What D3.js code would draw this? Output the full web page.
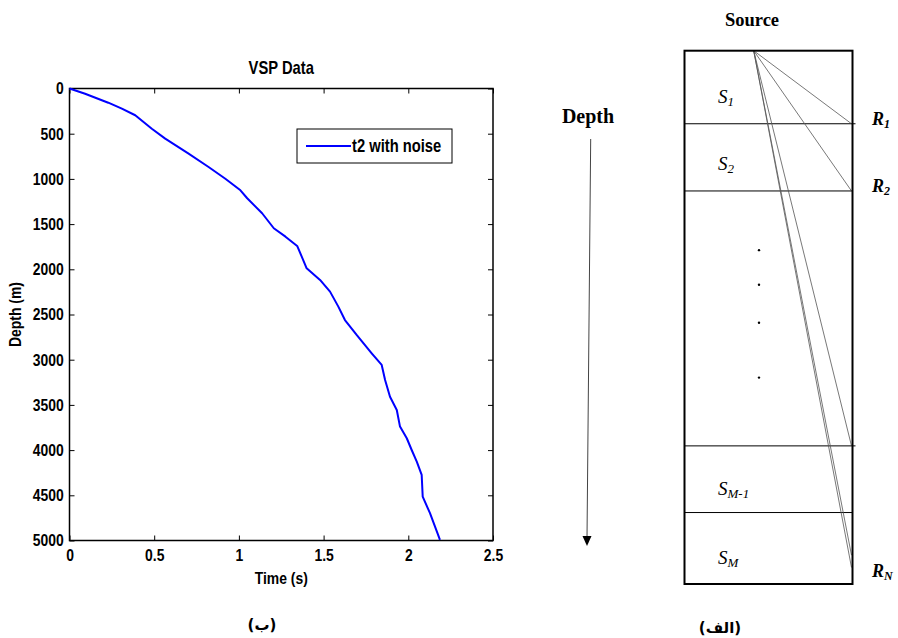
<!DOCTYPE html>
<html>
<head>
<meta charset="utf-8">
<script src="https://cdn.jsdelivr.net/npm/d3@7"></script>
<style>
  body { margin: 0; background: #fff; }
  svg { display: block; }
  .tick text { font-family: "Liberation Sans", Arial, sans-serif; font-weight: bold; font-size: 17px; fill: #000; }
  .tick line { stroke: #000; stroke-width: 1; }
</style>
</head>
<body>
<div id="chart"></div>
<script>
// VSP curve: time (s) vs depth (m)
const timeVals  = [0, 0.092, 0.229, 0.309, 0.388, 0.486, 0.565, 0.703, 0.821, 0.920, 1.009, 1.049, 1.137, 1.206, 1.275, 1.344, 1.371, 1.400, 1.479, 1.538, 1.587, 1.626, 1.695, 1.784, 1.843, 1.863, 1.892, 1.932, 1.951, 1.991, 2.020, 2.050, 2.079, 2.085, 2.128, 2.187];
const depthVals = [0, 58, 157, 223, 296, 445, 555, 721, 868, 998, 1126, 1214, 1380, 1546, 1639, 1742, 1860, 1989, 2118, 2247, 2413, 2561, 2726, 2929, 3058, 3224, 3409, 3556, 3740, 3869, 3999, 4128, 4275, 4515, 4698, 4994];
const xTicks = [0, 0.5, 1, 1.5, 2, 2.5];
const yTicks = [0, 500, 1000, 1500, 2000, 2500, 3000, 3500, 4000, 4500, 5000];
const seriesName = "t2 with noise";

// schematic (الف): depths on a 0..100 relative scale
const layerBounds = [13.7, 26.3, 74.1, 86.6];
const layerLabels = [
  {s: "S", sub: "1", d: 8.6},
  {s: "S", sub: "2", d: 21.2},
  {s: "S", sub: "M-1", d: 82.2},
  {s: "S", sub: "M", d: 95.2}
];
const receivers = [13.7, 26.3, 74.1, 96.9];
const receiverLabels = [
  {r: "R", sub: "1", d: 13.7},
  {r: "R", sub: "2", d: 26.3},
  {r: "R", sub: "N", d: 98.5}
];
const extraRay = [94.6];
const dotDepths = [37.4, 43.9, 51.0, 61.3];

const W = 898, H = 638;
const NARROW = "scale(0.82,1)";
const svg = d3.select("#chart").append("svg").attr("width", W).attr("height", H);

// ---------- left panel: VSP Data ----------
const x = d3.scaleLinear().domain([0, 2.5]).range([69.5, 493]);
const y = d3.scaleLinear().domain([0, 5000]).range([88.5, 540.5]);
const data = timeVals.map((t, i) => ({t: t, d: depthVals[i]}));

const plot = svg.append("g");

plot.append("g")
  .attr("transform", `translate(0,${y(5000)})`)
  .call(d3.axisBottom(x).tickValues(xTicks).tickSizeInner(-5).tickSizeOuter(0).tickPadding(8).tickFormat(d3.format("")))
  .call(g => g.select(".domain").remove())
  .call(g => g.selectAll("text").attr("transform", NARROW));
plot.append("g")
  .attr("transform", `translate(0,${y(0)})`)
  .call(d3.axisTop(x).tickValues(xTicks).tickSizeInner(-5).tickSizeOuter(0).tickFormat(""))
  .call(g => g.select(".domain").remove());
plot.append("g")
  .attr("transform", `translate(${x(0)},0)`)
  .call(d3.axisLeft(y).tickValues(yTicks).tickSizeInner(-5).tickSizeOuter(0).tickPadding(7).tickFormat(d3.format("")))
  .call(g => g.select(".domain").remove())
  .call(g => g.selectAll("text").attr("transform", NARROW));
plot.append("g")
  .attr("transform", `translate(${x(2.5)},0)`)
  .call(d3.axisRight(y).tickValues(yTicks).tickSizeInner(-5).tickSizeOuter(0).tickFormat(""))
  .call(g => g.select(".domain").remove());

plot.append("rect")
  .attr("x", x(0)).attr("y", y(0))
  .attr("width", x(2.5) - x(0)).attr("height", y(5000) - y(0))
  .attr("fill", "none").attr("stroke", "#000").attr("stroke-width", 1.5);

plot.append("path")
  .datum(data)
  .attr("fill", "none")
  .attr("stroke", "#0000ff")
  .attr("stroke-width", 2)
  .attr("stroke-linejoin", "round")
  .attr("d", d3.line().x(d => x(d.t)).y(d => y(d.d)));

const labelFont = '"Liberation Sans", Arial, sans-serif';
function narrowText(g, px, py, size, str, rot) {
  return g.append("text")
    .attr("transform", `translate(${px},${py})` + (rot ? " rotate(-90)" : "") + " " + NARROW)
    .style("font-family", labelFont).style("font-weight", "bold").style("font-size", size + "px")
    .text(str);
}
const midX = (x(0) + x(2.5)) / 2;
narrowText(plot, midX, 74, 18, "VSP Data").attr("text-anchor", "middle");
narrowText(plot, midX, 584, 17, "Time (s)").attr("text-anchor", "middle");
narrowText(plot, 21, (y(0) + y(5000)) / 2, 17, "Depth (m)", true).attr("text-anchor", "middle");

// legend
const leg = plot.append("g");
leg.append("rect")
  .attr("x", 297).attr("y", 129).attr("width", 155).attr("height", 34)
  .attr("fill", "#fff").attr("stroke", "#000").attr("stroke-width", 1);
leg.append("line")
  .attr("x1", 306).attr("x2", 351).attr("y1", 146).attr("y2", 146)
  .attr("stroke", "#0000ff").attr("stroke-width", 2);
narrowText(leg, 352, 152, 18, seriesName);

// ---------- right panel: schematic ----------
const bx0 = 684.5, bx1 = 852.5;
const sy = d3.scaleLinear().domain([0, 100]).range([50.7, 584]);
const src = [753.7, sy(0)];
const serif = '"Liberation Serif", "DejaVu Serif", serif';
const sch = svg.append("g");

sch.selectAll(".bound")
  .data(layerBounds)
  .enter().append("line")
  .attr("x1", bx0).attr("x2", (d, i) => (i === 0 || i === 2) ? bx1 + 3 : bx1)
  .attr("y1", d => sy(d)).attr("y2", d => sy(d))
  .attr("stroke", "#000").attr("stroke-width", 1);

sch.selectAll(".ray")
  .data(receivers.concat(extraRay))
  .enter().append("line")
  .attr("x1", src[0]).attr("y1", src[1])
  .attr("x2", bx1 - 1).attr("y2", d => sy(d))
  .attr("stroke", "#555").attr("stroke-width", 0.8);

sch.append("rect")
  .attr("x", bx0).attr("y", sy(0))
  .attr("width", bx1 - bx0).attr("height", sy(100) - sy(0))
  .attr("fill", "none").attr("stroke", "#000").attr("stroke-width", 2);

sch.selectAll(".dot")
  .data(dotDepths)
  .enter().append("circle")
  .attr("cx", 759).attr("cy", d => sy(d)).attr("r", 1.2).attr("fill", "#000");

const sl = sch.selectAll(".slab")
  .data(layerLabels)
  .enter().append("text")
  .attr("x", 718).attr("y", d => sy(d.d) + 6)
  .style("font-family", serif).style("font-style", "italic").style("font-size", "19px");
sl.append("tspan").text(d => d.s);
sl.append("tspan").attr("dy", 3).style("font-size", "13px").text(d => d.sub);

const rl = sch.selectAll(".rlab")
  .data(receiverLabels)
  .enter().append("text")
  .attr("x", 872).attr("y", d => sy(d.d) + 1)
  .style("font-family", serif).style("font-style", "italic").style("font-weight", "bold").style("font-size", "18px");
rl.append("tspan").text(d => d.r);
rl.append("tspan").attr("dy", 3).style("font-size", "12px").text(d => d.sub);

sch.append("text")
  .attr("x", 752).attr("y", 26)
  .attr("text-anchor", "middle")
  .style("font-family", serif).style("font-weight", "bold").style("font-size", "18.5px")
  .text("Source");
sch.append("text")
  .attr("x", 588).attr("y", 123)
  .attr("text-anchor", "middle")
  .style("font-family", serif).style("font-weight", "bold").style("font-size", "20px")
  .text("Depth");

// depth arrow
sch.append("line")
  .attr("x1", 590.7).attr("y1", 139).attr("x2", 587).attr("y2", 538)
  .attr("stroke", "#444").attr("stroke-width", 1);
sch.append("path")
  .attr("d", "M582.5,536 L591.5,536 L587,546 Z")
  .attr("fill", "#000");

// captions
const capFont = '"DejaVu Sans", sans-serif';
svg.append("text")
  .attr("x", 262).attr("y", 630)
  .attr("text-anchor", "middle").attr("direction", "rtl")
  .style("font-family", capFont).style("font-weight", "bold").style("font-size", "15px")
  .text("(ب)");
svg.append("text")
  .attr("x", 720).attr("y", 633)
  .attr("text-anchor", "middle").attr("direction", "rtl")
  .style("font-family", capFont).style("font-weight", "bold").style("font-size", "15px")
  .text("(الف)");
</script>
</body>
</html>
